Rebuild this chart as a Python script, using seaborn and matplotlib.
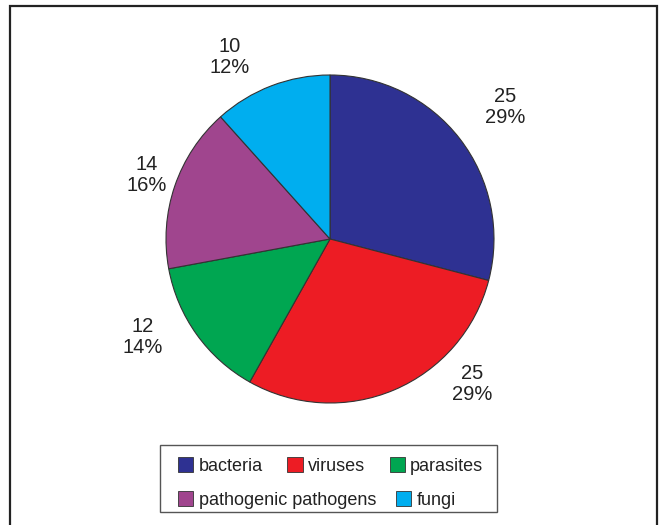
import matplotlib
matplotlib.use("Agg")
import matplotlib.pyplot as plt
from matplotlib.patches import Rectangle, Patch
import seaborn as sns

# Pathogen groups and their counts
categories = ["bacteria", "viruses", "parasites", "pathogenic pathogens", "fungi"]
counts = [25, 25, 12, 14, 10]
colors = ["#2E3192", "#ED1C24", "#00A651", "#A0458E", "#00AEEF"]

# Where each value/percent label sits (in pie-radius units from the centre)
label_pos = [(1.067, 0.805), (0.866, -0.884), (-1.140, -0.598),
             (-1.116, 0.390), (-0.610, 1.110)]

sns.set_theme(style="white")
plt.rcParams["font.family"] = ["Liberation Sans", "DejaVu Sans"]

W, H = 661, 525
fig = plt.figure(figsize=(W / 100, H / 100), dpi=100)
ax = fig.add_axes([0, 0, 1, 1])

cx, cy, r = 330, 239, 164
ax.set_xlim(-cx / r, (W - cx) / r)
ax.set_ylim((cy - H) / r, cy / r)
ax.set_aspect("equal")
ax.axis("off")

palette = sns.color_palette(colors)
wedges, _ = ax.pie(counts, colors=palette, startangle=90, counterclock=False,
                   radius=1.0, center=(0, 0), frame=True,
                   wedgeprops=dict(edgecolor="#333333", linewidth=0.8))
ax.set_xlim(-cx / r, (W - cx) / r)
ax.set_ylim((cy - H) / r, cy / r)
ax.axis("off")

total = sum(counts)
for v, (lx, ly) in zip(counts, label_pos):
    ax.text(lx, ly, f"{v}\n{round(v / total * 100)}%", ha="center", va="center",
            fontsize=14.5, color="#222222", linespacing=1.12)

# Outer frame
fig.patches.append(Rectangle((10 / W, 1 - 540 / H), 647 / W, 534 / H,
                             transform=fig.transFigure, fill=False,
                             edgecolor="#222222", linewidth=1.6))

# Legend frame
fig.patches.append(Rectangle((160 / W, 1 - 512 / H), 337 / W, 67 / H,
                             transform=fig.transFigure, fill=False,
                             edgecolor="#555555", linewidth=1.0))

handles = {c: Patch(facecolor=col, edgecolor="#333333", linewidth=0.6)
           for c, col in zip(categories, palette)}

common = dict(frameon=False, fontsize=13, handlelength=0.85, handleheight=0.85,
              handletextpad=0.3, borderpad=0, borderaxespad=0,
              loc="center left", labelcolor="#222222")

row1 = ["bacteria", "viruses", "parasites"]
leg1 = fig.legend([handles[c] for c in row1], row1, ncol=3, columnspacing=1.35,
                  bbox_to_anchor=(178 / W, 1 - 466 / H), **common)
row2 = ["pathogenic pathogens", "fungi"]
leg2 = fig.legend([handles[c] for c in row2], row2, ncol=2, columnspacing=1.1,
                  bbox_to_anchor=(178 / W, 1 - 500 / H), **common)

fig.savefig("out.png", dpi=100)
